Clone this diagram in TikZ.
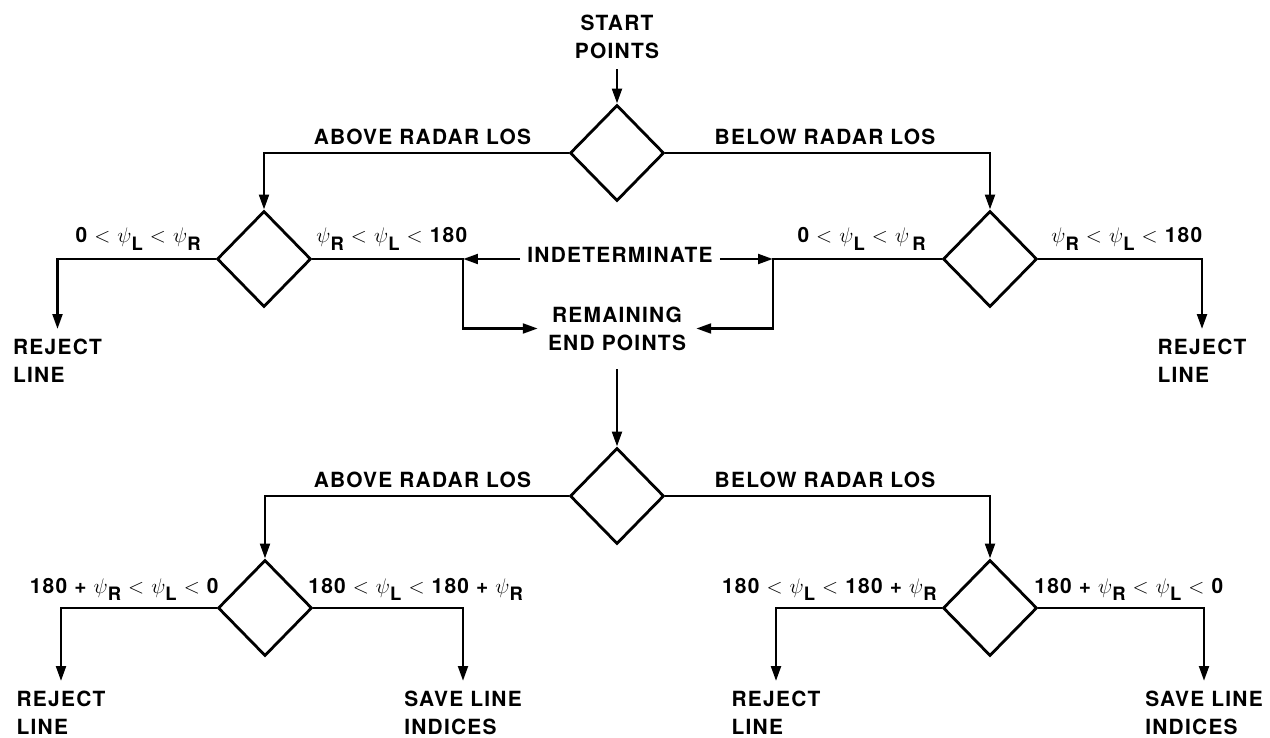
\documentclass[tikz,border=0pt]{standalone}
\usepackage{fontspec}
\setmainfont{TeX Gyre Heros}[LetterSpace=6]
\usetikzlibrary{shapes.geometric,arrows.meta}

\newcommand{\psix}[1]{$\psi$\raisebox{-4pt}{\fontsize{10.5pt}{12pt}\selectfont #1}}

\tikzset{
    decision/.style={draw, diamond, minimum width=1.88cm, minimum height=1.92cm, inner sep=0pt},
    term/.style={align=left, inner sep=5pt},
    cond/.style={inner sep=0pt}
}

\begin{document}
\begin{tikzpicture}[>={Triangle[length=8.5pt,width=5.5pt]}, line width=1.6pt,
    font=\fontsize{11.9pt}{15.9pt}\selectfont\bfseries]
    \useasboundingbox (0,0) rectangle (25.4,14.74);

    \node[term, align=center] (start) at (12.34,14.0) {START\\POINTS};
    \node[decision] (d1) at (12.34,11.68) {};
    \node (above1) at (8.45,12.01) {ABOVE RADAR LOS};
    \node (below1) at (16.5,12.01) {BELOW RADAR LOS};

    \node[decision] (d2) at (5.28,9.56) {};
    \node[decision] (d3) at (19.8,9.56) {};
    \node[cond, anchor=base east] (c2l) at (4.04,9.88) {0 $<$ \psix{L} $<$ \psix{R}};
    \node[cond, anchor=base west] (c2r) at (6.3,9.88) {\psix{R} $<$ \psix{L} $<$ 180};
    \node[cond, anchor=base east] (c3l) at (18.54,9.88) {0 $<$ \psix{L} $<$ \psix{\,R}};
    \node[cond, anchor=base west] (c3r) at (21.0,9.88) {\psix{R} $<$ \psix{L} $<$ 180};
    \node[term] (rej1) at (1.15,7.52) {REJECT\\LINE};
    \node[term] (rej2) at (24.04,7.52) {REJECT\\LINE};

    \node (indet) at (12.4,9.65) {INDETERMINATE};
    \coordinate (j2) at (9.26,9.56);
    \coordinate (j3) at (15.46,9.56);
    \node[term, align=center] (remain) at (12.34,8.17) {REMAINING\\END POINTS};

    \node[decision] (d4) at (12.34,4.82) {};
    \node (above2) at (8.45,5.14) {ABOVE RADAR LOS};
    \node (below2) at (16.5,5.14) {BELOW RADAR LOS};

    \node[decision] (d5) at (5.3,2.58) {};
    \node[decision] (d6) at (19.8,2.58) {};
    \node[cond, anchor=base east] (c5l) at (4.4,2.88) {180 + \psix{R} $<$ \psix{L} $<$ 0};
    \node[cond, anchor=base west] (c5r) at (6.14,2.88) {180 $<$ \psix{L} $<$ 180 + \psix{R}};
    \node[cond, anchor=base east] (c6l) at (18.76,2.88) {180 $<$ \psix{L} $<$ 180 + \psix{R}};
    \node[cond, anchor=base west] (c6r) at (20.66,2.88) {180 + \psix{R} $<$ \psix{L} $<$ 0};
    \node[term] (rej3) at (1.22,0.48) {REJECT\\LINE};
    \node[term] (save1) at (9.26,0.48) {SAVE LINE\\INDICES};
    \node[term] (rej4) at (15.52,0.48) {REJECT\\LINE};
    \node[term] (save2) at (24.08,0.48) {SAVE LINE\\INDICES};

    \draw[->] (start) -- (d1);
    \draw[->] (d1.west) -| (d2.north);
    \draw[->] (d1.east) -| (d3.north);
    \draw[->] (d2.west) -| (rej1);
    \draw[->] (d3.east) -| (rej2);
    \draw[->] (d2.east) -- (j2) |- (remain);
    \draw[->] (d3.west) -- (j3) |- (remain);
    \draw[->] (indet.west |- j2) -- (j2);
    \draw[->] (indet.east |- j3) -- (j3);
    \draw[->, shorten <=5pt] (remain) -- (d4);
    \draw[->] (d4.west) -| (d5.north);
    \draw[->] (d4.east) -| (d6.north);
    \draw[->] (d5.west) -| (rej3);
    \draw[->] (d5.east) -| (save1);
    \draw[->] (d6.west) -| (rej4);
    \draw[->] (d6.east) -| (save2);
\end{tikzpicture}
\end{document}
